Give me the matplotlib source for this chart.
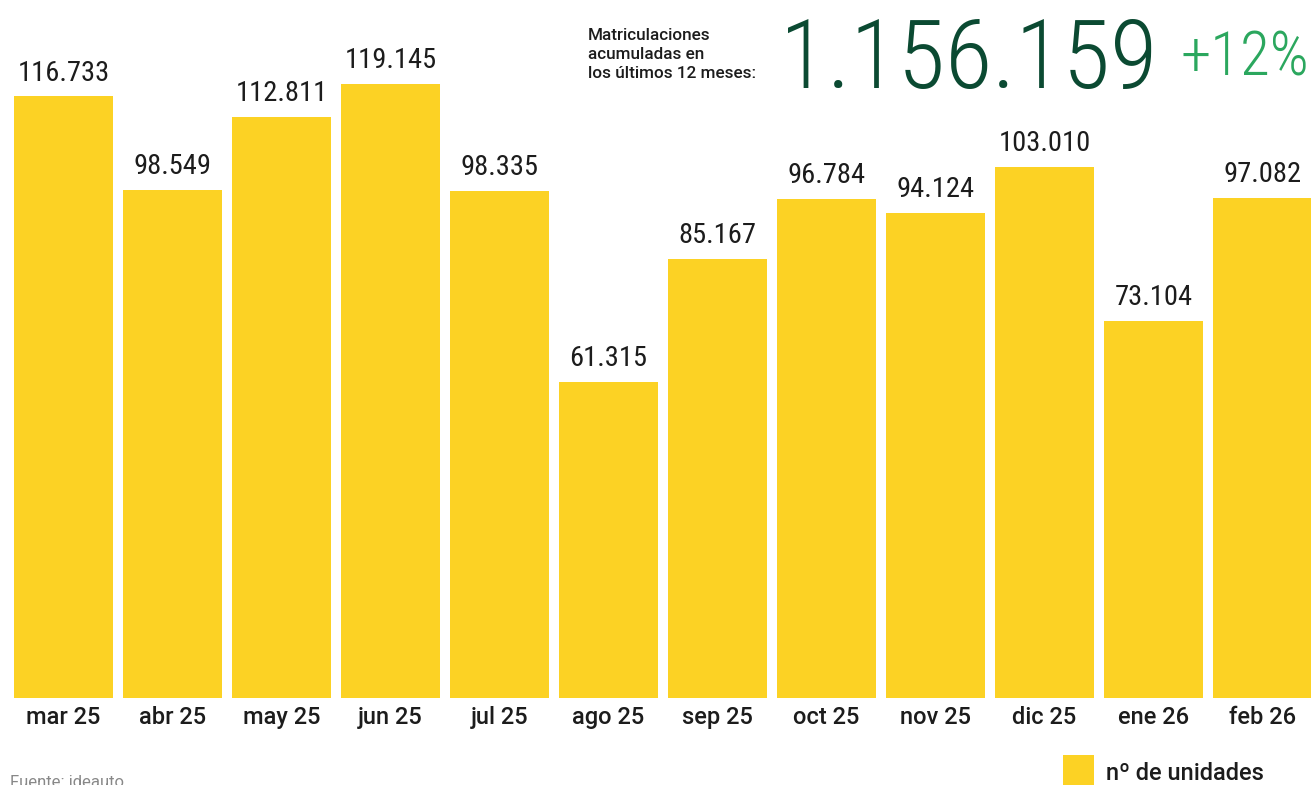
import matplotlib
matplotlib.use("Agg")
import matplotlib.pyplot as plt
from matplotlib.patches import Rectangle

# data
months = ["mar 25", "abr 25", "may 25", "jun 25", "jul 25", "ago 25",
          "sep 25", "oct 25", "nov 25", "dic 25", "ene 26", "feb 26"]
units = [116733, 98549, 112811, 119145, 98335, 61315,
         85167, 96784, 94124, 103010, 73104, 97082]
total_label = "1.156.159"
change_label = "+12%"
intro_lines = ["Matriculaciones", "acumuladas en", "los últimos 12 meses:"]
legend_label = "nº de unidades"
source_label = "Fuente: ideauto"

BAR = "#FCD224"
DARK = "#0B4A32"
GREEN = "#2BA75E"
TEXT = "#1C1C1C"
NUM_FONT = "Roboto Condensed"
TXT_FONT = "Roboto"


def fmt(v):
    return f"{v:,}".replace(",", ".")


fig = plt.figure(figsize=(13.11, 7.85), dpi=100)
ax = fig.add_axes([0.0, 1 - 698 / 785, 1.0, 698 / 785])

x = list(range(len(months)))
ax.bar(x, units, width=0.908, color=BAR, linewidth=0)
ax.set_xlim(-0.5826, 11.445)
ax.set_ylim(0, 135445)
ax.axis("off")

for xi, v in zip(x, units):
    ax.text(xi, v + 1900, fmt(v), ha="center", va="bottom",
            fontsize=20.5, family=NUM_FONT, color=TEXT)
    ax.text(xi, -1600, months[xi], ha="center", va="top",
            fontsize=17, family=TXT_FONT, weight="medium", color=TEXT)

# headline block
y0 = 1 - 36 / 785
for i, line in enumerate(intro_lines):
    fig.text(588 / 1311, y0 - i * 18.5 / 785, line, ha="left", va="center",
             fontsize=12.3, family=TXT_FONT, weight="medium", color=TEXT)
fig.text(780 / 1311, 1 - 88 / 785, total_label, ha="left", va="baseline",
         fontsize=70, family=NUM_FONT, weight="light", color=DARK)
fig.text(1309 / 1311, 1 - 76 / 785, change_label, ha="right", va="baseline",
         fontsize=44, family=NUM_FONT, weight="light", color=GREEN)

# legend and source
fig.patches.append(Rectangle((1063 / 1311, 0.0), 31 / 1311, 30 / 785,
                             transform=fig.transFigure, color=BAR, lw=0))
fig.text(1106 / 1311, 1 - 774 / 785, legend_label, ha="left", va="center",
         fontsize=17, family=TXT_FONT, weight="medium", color=TEXT)
fig.text(10 / 1311, 1 - 790 / 785, source_label, ha="left", va="bottom",
         fontsize=12, family=TXT_FONT, color="#888888")

fig.savefig("out.png", dpi=100)
